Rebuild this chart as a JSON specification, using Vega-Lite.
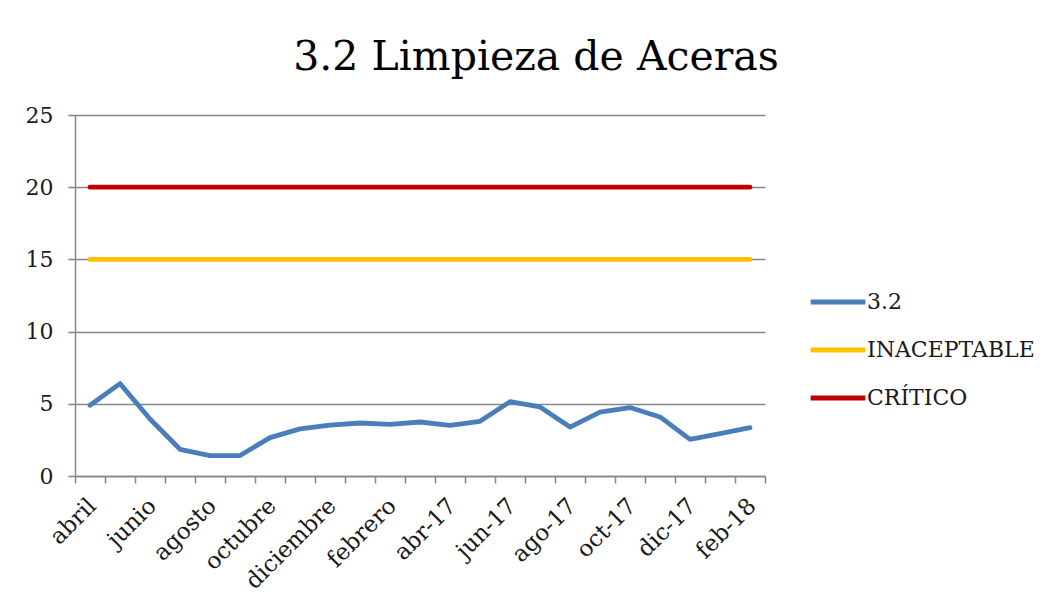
{
  "$schema": "https://vega.github.io/schema/vega-lite/v6.json",
  "width": 690,
  "height": 361,
  "autosize": {"type": "none"},
  "padding": {"left": 75, "top": 115, "right": 294, "bottom": 140},
  "background": "white",
  "title": {
    "text": "3.2 Limpieza de Aceras",
    "font": "DejaVu Serif",
    "fontSize": 41,
    "fontWeight": "normal",
    "color": "#000000",
    "anchor": "middle",
    "dx": 116,
    "offset": 25
  },
  "data": {
    "values": [
      {"mes": "abril", "serie": "3.2", "valor": 4.9},
      {"mes": "mayo", "serie": "3.2", "valor": 6.4},
      {"mes": "junio", "serie": "3.2", "valor": 3.95},
      {"mes": "julio", "serie": "3.2", "valor": 1.85},
      {"mes": "agosto", "serie": "3.2", "valor": 1.41},
      {"mes": "septiembre", "serie": "3.2", "valor": 1.42},
      {"mes": "octubre", "serie": "3.2", "valor": 2.66},
      {"mes": "noviembre", "serie": "3.2", "valor": 3.26},
      {"mes": "diciembre", "serie": "3.2", "valor": 3.53},
      {"mes": "enero", "serie": "3.2", "valor": 3.67},
      {"mes": "febrero", "serie": "3.2", "valor": 3.58},
      {"mes": "marzo", "serie": "3.2", "valor": 3.74},
      {"mes": "abr-17", "serie": "3.2", "valor": 3.51},
      {"mes": "may-17", "serie": "3.2", "valor": 3.79},
      {"mes": "jun-17", "serie": "3.2", "valor": 5.15},
      {"mes": "jul-17", "serie": "3.2", "valor": 4.78},
      {"mes": "ago-17", "serie": "3.2", "valor": 3.39},
      {"mes": "sep-17", "serie": "3.2", "valor": 4.43},
      {"mes": "oct-17", "serie": "3.2", "valor": 4.74},
      {"mes": "nov-17", "serie": "3.2", "valor": 4.09},
      {"mes": "dic-17", "serie": "3.2", "valor": 2.54},
      {"mes": "ene-18", "serie": "3.2", "valor": 2.93},
      {"mes": "feb-18", "serie": "3.2", "valor": 3.35},
      {"mes": "abril", "serie": "INACEPTABLE", "valor": 15},
      {"mes": "mayo", "serie": "INACEPTABLE", "valor": 15},
      {"mes": "junio", "serie": "INACEPTABLE", "valor": 15},
      {"mes": "julio", "serie": "INACEPTABLE", "valor": 15},
      {"mes": "agosto", "serie": "INACEPTABLE", "valor": 15},
      {"mes": "septiembre", "serie": "INACEPTABLE", "valor": 15},
      {"mes": "octubre", "serie": "INACEPTABLE", "valor": 15},
      {"mes": "noviembre", "serie": "INACEPTABLE", "valor": 15},
      {"mes": "diciembre", "serie": "INACEPTABLE", "valor": 15},
      {"mes": "enero", "serie": "INACEPTABLE", "valor": 15},
      {"mes": "febrero", "serie": "INACEPTABLE", "valor": 15},
      {"mes": "marzo", "serie": "INACEPTABLE", "valor": 15},
      {"mes": "abr-17", "serie": "INACEPTABLE", "valor": 15},
      {"mes": "may-17", "serie": "INACEPTABLE", "valor": 15},
      {"mes": "jun-17", "serie": "INACEPTABLE", "valor": 15},
      {"mes": "jul-17", "serie": "INACEPTABLE", "valor": 15},
      {"mes": "ago-17", "serie": "INACEPTABLE", "valor": 15},
      {"mes": "sep-17", "serie": "INACEPTABLE", "valor": 15},
      {"mes": "oct-17", "serie": "INACEPTABLE", "valor": 15},
      {"mes": "nov-17", "serie": "INACEPTABLE", "valor": 15},
      {"mes": "dic-17", "serie": "INACEPTABLE", "valor": 15},
      {"mes": "ene-18", "serie": "INACEPTABLE", "valor": 15},
      {"mes": "feb-18", "serie": "INACEPTABLE", "valor": 15},
      {"mes": "abril", "serie": "CRÍTICO", "valor": 20},
      {"mes": "mayo", "serie": "CRÍTICO", "valor": 20},
      {"mes": "junio", "serie": "CRÍTICO", "valor": 20},
      {"mes": "julio", "serie": "CRÍTICO", "valor": 20},
      {"mes": "agosto", "serie": "CRÍTICO", "valor": 20},
      {"mes": "septiembre", "serie": "CRÍTICO", "valor": 20},
      {"mes": "octubre", "serie": "CRÍTICO", "valor": 20},
      {"mes": "noviembre", "serie": "CRÍTICO", "valor": 20},
      {"mes": "diciembre", "serie": "CRÍTICO", "valor": 20},
      {"mes": "enero", "serie": "CRÍTICO", "valor": 20},
      {"mes": "febrero", "serie": "CRÍTICO", "valor": 20},
      {"mes": "marzo", "serie": "CRÍTICO", "valor": 20},
      {"mes": "abr-17", "serie": "CRÍTICO", "valor": 20},
      {"mes": "may-17", "serie": "CRÍTICO", "valor": 20},
      {"mes": "jun-17", "serie": "CRÍTICO", "valor": 20},
      {"mes": "jul-17", "serie": "CRÍTICO", "valor": 20},
      {"mes": "ago-17", "serie": "CRÍTICO", "valor": 20},
      {"mes": "sep-17", "serie": "CRÍTICO", "valor": 20},
      {"mes": "oct-17", "serie": "CRÍTICO", "valor": 20},
      {"mes": "nov-17", "serie": "CRÍTICO", "valor": 20},
      {"mes": "dic-17", "serie": "CRÍTICO", "valor": 20},
      {"mes": "ene-18", "serie": "CRÍTICO", "valor": 20},
      {"mes": "feb-18", "serie": "CRÍTICO", "valor": 20}
    ]
  },
  "mark": {"type": "line", "strokeWidth": 4.8, "strokeCap": "round", "strokeJoin": "round"},
  "encoding": {
    "x": {
      "field": "mes",
      "type": "nominal",
      "sort": null,
      "scale": {"type": "band", "paddingInner": 0, "paddingOuter": 0},
      "axis": {
        "title": null,
        "tickBand": "extent",
        "labelAngle": -45,
        "labelAlign": "right",
        "labelBaseline": "middle",
        "labelFont": "DejaVu Serif",
        "labelFontSize": 23,
        "labelColor": "#1a1a1a",
        "labelPadding": 19,
        "labelOffset": 2,
        "labelLimit": 300,
        "tickSize": 7,
        "tickColor": "#868686",
        "tickWidth": 1.5,
        "domainColor": "#868686",
        "domainWidth": 1.5,
        "labelExpr": "indexof(['abril','junio','agosto','octubre','diciembre','febrero','abr-17','jun-17','ago-17','oct-17','dic-17','feb-18'], datum.value) >= 0 ? datum.value : ''",
        "grid": false
      }
    },
    "y": {
      "field": "valor",
      "type": "quantitative",
      "scale": {"domain": [0, 25], "nice": false},
      "axis": {
        "title": null,
        "values": [0, 5, 10, 15, 20, 25],
        "labelFont": "DejaVu Serif",
        "labelFontSize": 22,
        "labelColor": "#1a1a1a",
        "labelPadding": 15,
        "tickSize": 7,
        "tickColor": "#868686",
        "tickWidth": 1.5,
        "domainColor": "#868686",
        "domainWidth": 1.5,
        "grid": true,
        "gridColor": "#868686",
        "gridWidth": 1.5
      }
    },
    "color": {
      "field": "serie",
      "type": "nominal",
      "scale": {
        "domain": ["3.2", "INACEPTABLE", "CRÍTICO"],
        "range": ["#4a7ebb", "#ffc000", "#c00000"]
      },
      "legend": {
        "title": null,
        "orient": "none",
        "legendX": 733,
        "legendY": 157,
        "symbolType": "stroke",
        "symbolSize": 3000,
        "symbolStrokeWidth": 4.8,
        "labelFont": "DejaVu Serif",
        "labelFontSize": 22,
        "labelColor": "#1a1a1a",
        "labelOffset": -1,
        "labelLimit": 300,
        "rowPadding": 7
      }
    }
  },
  "config": {
    "view": {"stroke": null}
  }
}
